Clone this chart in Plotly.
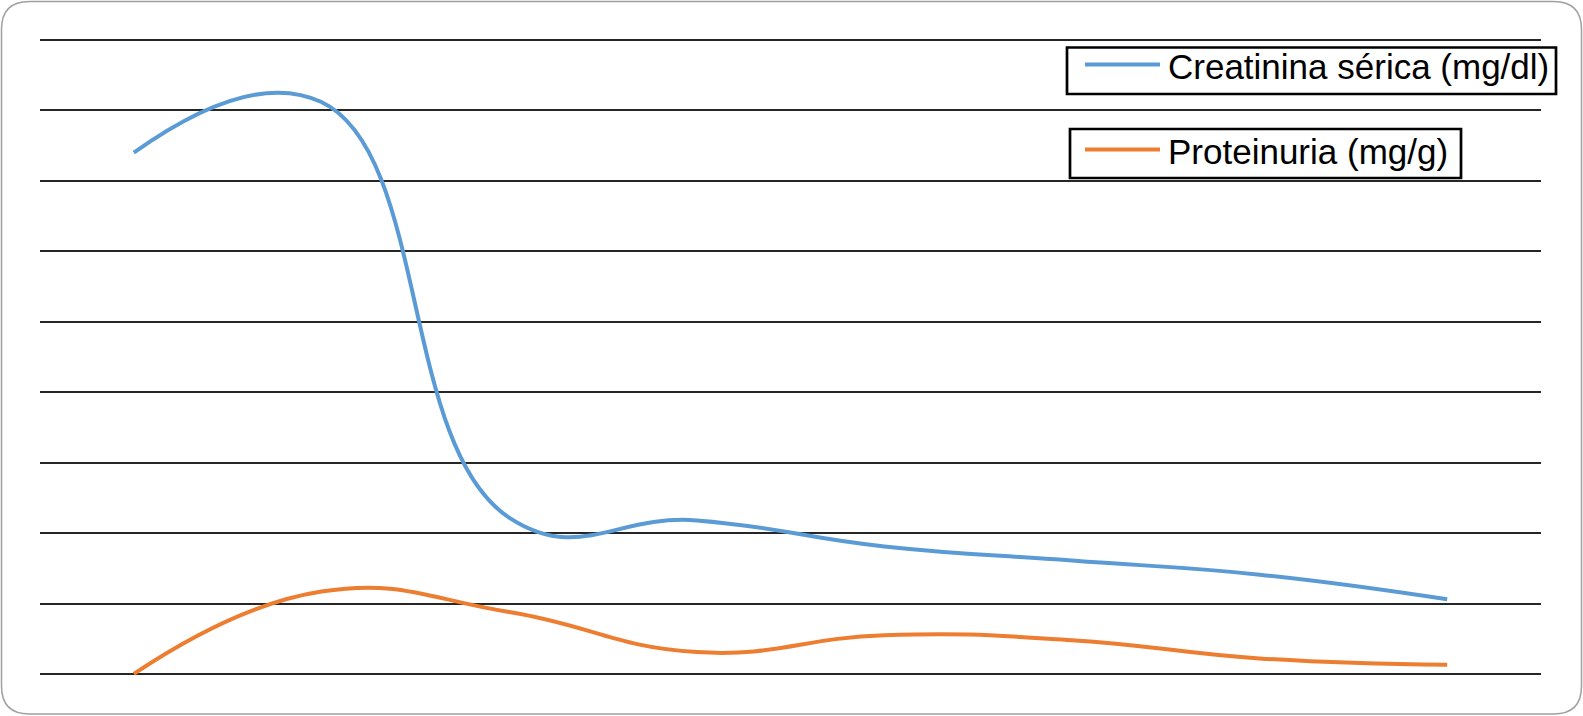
import plotly.graph_objects as go

# ---- data (y in gridline units) ----
puntos = [1, 2, 3, 4, 5, 6, 7, 8]
creatinina = [7.40, 8.12, 2.22, 2.18, 1.81, 1.61, 1.41, 1.06]
proteinuria = [0.00, 1.17, 0.88, 0.31, 0.55, 0.48, 0.22, 0.13]
nombre_creat = "Creatinina sérica (mg/dl)"
nombre_prot = "Proteinuria (mg/g)"
color_creat = "#5B9BD5"
color_prot = "#ED7D31"

W, H = 1583, 716
ML, MR, MT, MB = 40, 42, 33, 35
PW, PH = W - ML - MR, H - MT - MB


def px(x):
    return (x - ML) / PW


def py(y):
    return (H - MB - y) / PH


fig = go.Figure()
fig.add_trace(go.Scatter(
    x=puntos, y=creatinina, name=nombre_creat, mode="lines",
    line=dict(color=color_creat, width=4, shape="spline", smoothing=1.3),
    showlegend=False,
))
fig.add_trace(go.Scatter(
    x=puntos, y=proteinuria, name=nombre_prot, mode="lines",
    line=dict(color=color_prot, width=4, shape="spline", smoothing=1.3),
    showlegend=False,
))

# rounded outer border
x1, x2, y1, y2, r = 1.5, 1581.5, 1.5, 714, 28
path = (
    f"M {px(x1 + r)} {py(y1)} L {px(x2 - r)} {py(y1)} "
    f"Q {px(x2)} {py(y1)} {px(x2)} {py(y1 + r)} "
    f"L {px(x2)} {py(y2 - r)} Q {px(x2)} {py(y2)} {px(x2 - r)} {py(y2)} "
    f"L {px(x1 + r)} {py(y2)} Q {px(x1)} {py(y2)} {px(x1)} {py(y2 - r)} "
    f"L {px(x1)} {py(y1 + r)} Q {px(x1)} {py(y1)} {px(x1 + r)} {py(y1)} Z"
)
fig.add_shape(type="path", path=path, xref="paper", yref="paper",
              line=dict(color="#a0a0a0", width=1.5), layer="below")

# legend boxes (one box per series, as in the original)
font = dict(family="Liberation Sans, Arial, sans-serif", size=35, color="#000")
legend_items = [
    # name, colour, box (left, right, top, bottom), sample y, text centre y
    (nombre_creat, color_creat, (1067, 1556, 47.5, 94), 64.5, 66.5),
    (nombre_prot, color_prot, (1070, 1461, 129, 178), 149.5, 151.5),
]
for name, col, (bl, br, bt, bb), sy, ty in legend_items:
    fig.add_shape(type="rect", xref="paper", yref="paper",
                  x0=px(bl), x1=px(br), y0=py(bb), y1=py(bt),
                  line=dict(color="#000", width=2.7), fillcolor="white",
                  layer="above")
    fig.add_shape(type="line", xref="paper", yref="paper",
                  x0=px(1085), x1=px(1160), y0=py(sy), y1=py(sy),
                  line=dict(color=col, width=4), layer="above")
    fig.add_annotation(text=name, xref="paper", yref="paper",
                       x=px(1167), y=py(ty), xanchor="left", yanchor="middle",
                       showarrow=False, font=font, borderpad=0)

fig.update_layout(
    width=W, height=H,
    margin=dict(l=ML, r=MR, t=MT, b=MB),
    paper_bgcolor="white", plot_bgcolor="white",
    showlegend=False,
    xaxis=dict(range=[0.5, 8.5], showgrid=False, zeroline=False,
               showticklabels=False, ticks="", showline=False),
    yaxis=dict(range=[-0.1, 9.1], tick0=0, dtick=1, showgrid=True,
               gridcolor="#262626", gridwidth=2, zeroline=False,
               showticklabels=False, ticks="", showline=False),
)

fig.write_html(
    "out.html",
    config={"displayModeBar": False},
    post_script="document.body.style.margin='0';document.body.style.overflow='hidden';",
)
